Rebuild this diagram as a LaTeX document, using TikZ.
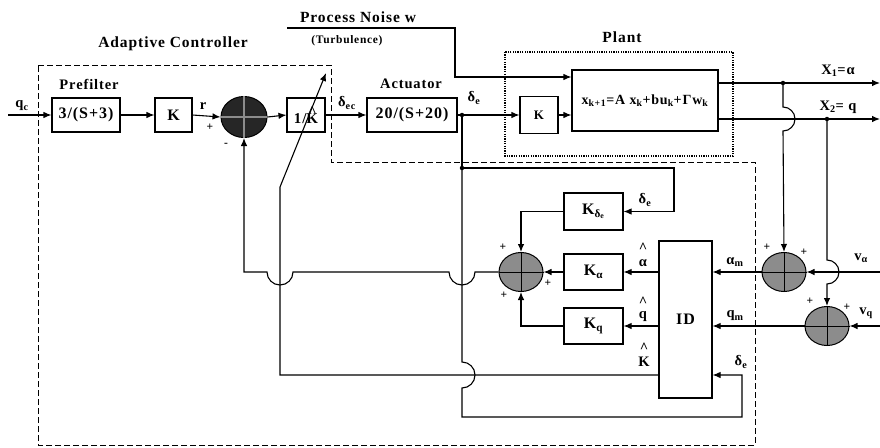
\documentclass[tikz,border=0pt]{standalone}
\usepackage{fontspec}
\setmainfont{Liberation Serif}
\newfontfamily\tfam[LetterSpace=6]{Liberation Serif}
\newcommand\myb{\tfam\bfseries}
\newcommand\hatK{{\setbox0\hbox{K}\rlap{\raisebox{0.45em}{\hbox to\wd0{\hss\textasciicircum\hss}}}K}}
\usetikzlibrary{arrows.meta,shapes.geometric,calc}
\begin{document}
\begin{tikzpicture}[x=1pt,y=-1pt,
  sig/.style={line width=1.1pt},
  arr/.style={sig,-{Latex[length=8pt,width=6.5pt]}},
  blk/.style={draw,line width=1.1pt,minimum height=34pt,inner sep=0pt,font=\myb\fontsize{16}{16}\selectfont},
  sumg/.style={ellipse,draw,line width=1pt,fill=black!45,minimum width=44pt,minimum height=39pt,inner sep=0pt},
  sumk/.style={ellipse,draw,line width=1pt,fill=black!85,minimum width=46pt,minimum height=41pt,inner sep=0pt},
  lbl/.style={inner sep=0pt,font=\myb\fontsize{14.5}{14.5}\selectfont},
  ttl/.style={inner sep=0pt,font=\myb\fontsize{15.5}{15.5}\selectfont},
  pm/.style={inner sep=0pt,font=\bfseries\fontsize{11.5}{11.5}\selectfont},
  dot/.style={circle,fill=black,inner sep=0pt,minimum size=4.5pt},
  dsh/.style={line width=0.9pt,dash pattern=on 6pt off 3pt},
  dtt/.style={line width=1.6pt,dash pattern=on 1.2pt off 1.2pt}]
\useasboundingbox (0,0) rectangle (880,447);

% boundaries
\draw[dsh] (38,65) -- (331,65) -- (331,162) -- (755,162) -- (755,445) -- (38,445) -- cycle;
\draw[dtt] (505,52) rectangle (733,156);

% blocks
\node[blk,minimum width=68pt] (pre) at (86,115) {3/(S+3)};
\node[blk,minimum width=37pt] (k1) at (173.5,115) {K};
\node[sumk] (sA) at (244,117) {};
\draw[line width=2.5pt,black!45] (sA.north) -- (sA.south) (sA.west) -- (sA.east);
\node[blk,minimum width=38pt,font=\myb\fontsize{15}{15}\selectfont] (ik) at (306,115) {1/\hatK};
\node[blk,minimum width=90pt] (act) at (412,115) {20/(S+20)};
\node[blk,minimum width=38pt,minimum height=37pt,font=\myb\fontsize{13}{13}\selectfont] (kp) at (539,115) {K};
\node[blk,minimum width=146pt,minimum height=61pt,font=\myb\fontsize{14}{14}\selectfont] (pl) at (645,100.5) {x\textsubscript{k+1}=A x\textsubscript{k}+bu\textsubscript{k}+Γw\textsubscript{k}};
\node[blk,minimum width=59pt,minimum height=37pt] (kde) at (593.5,211.5) {K\textsubscript{δ\textsubscript{e}}};
\node[blk,minimum width=59pt,minimum height=36pt] (kal) at (593.5,272) {K\textsubscript{α}};
\node[blk,minimum width=59pt,minimum height=36pt] (kq) at (593.5,326) {K\textsubscript{q}};
\node[blk,minimum width=53pt,minimum height=157pt] (id) at (685.5,319.5) {ID};

\node[sumg] (sD) at (521,272) {};
\node[sumg] (sB) at (784,272) {};
\node[sumg] (sC) at (827,326) {};
\foreach \s in {sD,sB,sC} \draw[line width=1pt] (\s.north) -- (\s.south) (\s.west) -- (\s.east);

% coordinates
\coordinate (qin) at (8,115);
\coordinate (jA) at (462,115);
\coordinate (jB) at (462,168);
\coordinate (nz) at (287,28);
\coordinate (x1e) at (880,83);
\coordinate (x2e) at (880,119);
\coordinate (j1) at (783,83);
\coordinate (j2) at (827,119);
\coordinate (va) at (880,272);
\coordinate (vq) at (880,326);
\coordinate (yK) at (0,375);
\coordinate (tip) at (326,73);

% forward path
\draw[arr] (qin) -- (pre.west);
\draw[arr] (pre.east) -- (k1.west);
\draw[arr] (k1.east) -- (sA.west);
\draw[arr] (sA.east) -- (ik.west);
\draw[arr] (ik.east) -- (act.west);
\draw[arr] (act.east) -- (kp.west);
\draw[arr] (kp.east) -- (kp.east -| pl.west);
\draw[arr] (nz) -- (455,28) -- (455,77) -- (pl.west |- 0,77);
\node[dot] (dA) at (jA) {};

% outputs
\draw[arr] (pl.east |- x1e) -- (x1e);
\draw[arr] (pl.east |- x2e) -- (x2e);
\node[dot] (d1) at (j1) {};
\node[dot] (d2) at (j2) {};
\draw[arr] (j1) -- (783,107) arc[start angle=-90,end angle=90,radius=12] -- (sB.north);
\draw[arr] (j2) -- (827,260) arc[start angle=-90,end angle=90,radius=12] -- (sC.north);
\draw[arr] (va) -- (sB.east);
\draw[arr] (vq) -- (sC.east);
\draw[arr] (sB.west) -- (sB.west -| id.east);
\draw[arr] (sC.west) -- (sC.west -| id.east);

% identification outputs
\draw[arr] (id.west |- kal.east) -- (kal.east);
\draw[arr] (id.west |- kq.east) -- (kq.east);
\draw[arr] (kal.west) -- (sD.east);
\draw[arr] (kde.west) -- (kde.west -| sD.north) -- (sD.north);
\draw[arr] (kq.west) -- (kq.west -| sD.south) -- (sD.south);

% delta_e feedback
\draw[sig] (jA) -- (jB);
\node[dot] (dB) at (jB) {};
\draw[arr] (jB) -- (674,168) -- (674,211.5) -- (kde.east);
\draw[arr] (jB) -- (462,362) arc[start angle=-90,end angle=90,radius=13] -- (462,417) -- (742,417) -- (742,375) -- (id.east |- yK);

% gain feedback to summing junction
\draw[arr] (sD.west) -- (475,272) arc[start angle=0,end angle=180,radius=13] -- (293,272) arc[start angle=0,end angle=180,radius=13] -- (244,272) -- (sA.south);

% adaptation arrow
\draw[arr] (id.west |- yK) -- (280,375) -- (280,187) -- (tip);

% labels
\node[ttl] (tAC) at (173,44) {Adaptive Controller};
\node[ttl] (tPN) at (358,17) {Process Noise w};
\node[lbl,font=\myb\fontsize{11.5}{11.5}\selectfont] (tTu) at (347,41) {(Turbulence)};
\node[ttl] (tPl) at (622,37) {Plant};
\node[ttl,font=\myb\fontsize{14.5}{14.5}\selectfont] (tPf) at (89,84) {Prefilter};
\node[ttl,font=\myb\fontsize{14.5}{14.5}\selectfont] (tAc) at (411,84) {Actuator};
\node[lbl] (lqc) at (22,106) {q\textsubscript{c}};
\node[lbl] (lr) at (203,106) {r};
\node[pm] (p1) at (210,127) {+};
\node[pm] (m1) at (226,145) {-};
\node[lbl] (lde1) at (347,103) {δ\textsubscript{ec}};
\node[lbl] (lde2) at (474,98) {δ\textsubscript{e}};
\node[lbl] (lx1) at (838,71) {X\textsubscript{1}=α};
\node[lbl] (lx2) at (838,107) {X\textsubscript{2}= q};
\node[lbl] (lde3) at (645,200) {δ\textsubscript{e}};
\node[lbl] (lahc) at (643,248) {\textasciicircum};
\node[lbl] (lah) at (643,263) {α};
\node[lbl] (lqhc) at (643,302) {\textasciicircum};
\node[lbl] (lqh) at (643,317) {q};
\node[lbl] (lkhc) at (644,348) {\textasciicircum};
\node[lbl] (lkh) at (644,362) {K};
\node[lbl] (lam) at (735,262) {α\textsubscript{m}};
\node[lbl] (lqm) at (735,316) {q\textsubscript{m}};
\node[lbl] (lde4) at (741,362) {δ\textsubscript{e}};
\node[lbl] (lva) at (861,258) {v\textsubscript{α}};
\node[lbl] (lvq) at (866,313) {v\textsubscript{q}};
\node[pm] (p2) at (503,247) {+};
\node[pm] (p3) at (548,283) {+};
\node[pm] (p4) at (504,295) {+};
\node[pm] (p5) at (767,247) {+};
\node[pm] (p6) at (804,252) {+};
\node[pm] (p7) at (810,301) {+};
\node[pm] (p8) at (847,307) {+};
\end{tikzpicture}
\end{document}
